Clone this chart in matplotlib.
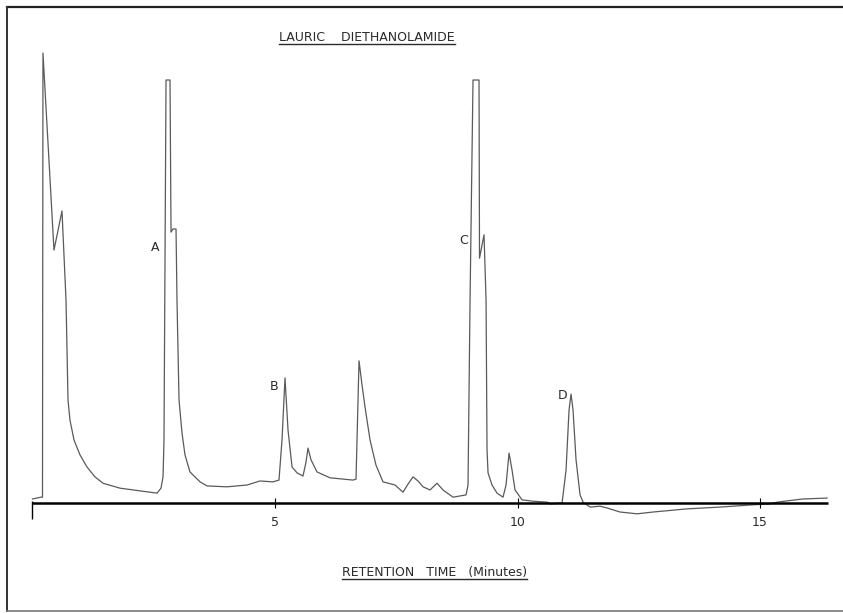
import matplotlib
matplotlib.use("Agg")
import matplotlib.pyplot as plt
from matplotlib.lines import Line2D

# ── chromatogram trace (time in minutes, detector response in arbitrary units) ──
time_min = [0.0, 0.175, 0.206, 0.216, 0.443, 0.608, 0.691, 0.732, 0.773, 0.856,
            0.979, 1.124, 1.289, 1.454, 1.804, 2.216, 2.567, 2.649, 2.691, 2.711,
            2.753, 2.835, 2.856, 2.897, 2.959, 2.979, 3.021, 3.082, 3.144, 3.247,
            3.454, 3.598, 4.010, 4.423, 4.691, 4.959, 5.082, 5.144, 5.206, 5.268,
            5.351, 5.454, 5.577, 5.639, 5.680, 5.742, 5.866, 6.134, 6.608, 6.670,
            6.732, 6.794, 6.856, 6.959, 7.082, 7.227, 7.474, 7.639, 7.742, 7.845,
            7.948, 8.052, 8.196, 8.340, 8.464, 8.670, 8.938, 8.979, 9.021, 9.082,
            9.206, 9.216, 9.309, 9.351, 9.371, 9.392, 9.474, 9.577, 9.701, 9.763,
            9.825, 9.887, 9.948, 10.093, 10.320, 10.608, 10.670, 10.918, 11.000, 11.062,
            11.103, 11.144, 11.206, 11.289, 11.351, 11.495, 11.701, 11.845, 12.113, 12.464,
            12.794, 13.495, 14.175, 14.856, 15.206, 15.351, 15.887, 16.381]
response = [0.9, 1.3, 1.3, 100.0, 56.2, 64.9, 45.1, 22.9, 18.4, 14.0,
            10.7, 8.0, 5.8, 4.4, 3.3, 2.7, 2.2, 3.3, 5.8, 14.0,
            94.0, 94.0, 60.2, 60.9, 60.9, 45.1, 22.9, 15.6, 10.7, 6.9,
            4.7, 3.8, 3.6, 4.0, 4.9, 4.7, 5.1, 14.0, 27.8, 16.2,
            8.0, 6.7, 6.0, 9.1, 12.2, 9.6, 6.9, 5.6, 5.1, 5.3,
            31.6, 26.2, 21.3, 14.0, 8.4, 4.7, 4.0, 2.4, 4.2, 5.8,
            4.9, 3.6, 2.9, 4.4, 2.9, 1.3, 1.8, 4.0, 45.1, 94.0,
            94.0, 54.4, 59.6, 45.1, 11.8, 6.7, 4.0, 2.2, 1.3, 4.0,
            11.1, 7.3, 2.9, 0.7, 0.4, 0.2, -0.2, 0.0, 7.3, 20.7,
            24.2, 20.7, 9.6, 1.8, 0.2, -0.9, -0.7, -1.1, -2.0, -2.4,
            -2.0, -1.3, -0.9, -0.4, -0.2, 0.2, 0.9, 1.1]

peak_names = ["A", "B", "C", "D"]
peak_label_t = [2.53, 4.98, 8.88, 10.92]
peak_label_r = [56.7, 25.8, 58.4, 24.0]

tick_pos = [5, 10, 15]
tick_labels = ["5", "10", "15"]
axis_end = 16.4

fig = plt.figure(figsize=(8.43, 6.13), dpi=100)
ax = fig.add_axes([0, 0, 1, 1])
ax.set_xlim(-0.67, 16.71)
ax.set_ylim(-24.44, 111.78)
ax.axis("off")

ink = "#2a2a2a"

# trace
ax.plot(time_min, response, color="#5a5a5a", linewidth=0.9)

# time axis
ax.hlines(0, 0, axis_end, color="black", linewidth=1.8)
ax.vlines(0, -3.6, 0.4, color="black", linewidth=1.0)
ax.vlines(tick_pos, -1.1, 1.1, color="black", linewidth=0.8)
for x, lab in zip(tick_pos, tick_labels):
    ax.text(x, -4.3, lab, ha="center", va="center", fontsize=9, color=ink)

# peak labels
for name, x, y in zip(peak_names, peak_label_t, peak_label_r):
    ax.text(x, y, name, ha="center", va="center", fontsize=9, color=ink)

# titles (underlined)
title = ax.text(6.90, 102.7, "LAURIC    DIETHANOLAMIDE", ha="center", va="baseline",
                fontsize=9, color=ink)
xlab = ax.text(8.29, -16.2, "RETENTION   TIME   (Minutes)", ha="center", va="baseline",
               fontsize=9, color=ink)

fig.canvas.draw()
renderer = fig.canvas.get_renderer()
for t in (title, xlab):
    bb = t.get_window_extent(renderer).transformed(fig.transFigure.inverted())
    fig.add_artist(Line2D([bb.x0, bb.x1], [bb.y0, bb.y0],
                          transform=fig.transFigure, color=ink, linewidth=1.0))

# page frame
fl, ft, fb = 7 / 843, 1 - 7 / 613, 1 - 611 / 613
fig.add_artist(Line2D([fl, 1.0], [ft, ft], transform=fig.transFigure, color="#222222", linewidth=1.6))
fig.add_artist(Line2D([fl, fl], [fb, ft], transform=fig.transFigure, color="#333333", linewidth=1.4))
fig.add_artist(Line2D([fl, 1.0], [fb, fb], transform=fig.transFigure, color="#777777", linewidth=1.2))

fig.savefig("out.png", dpi=100)
